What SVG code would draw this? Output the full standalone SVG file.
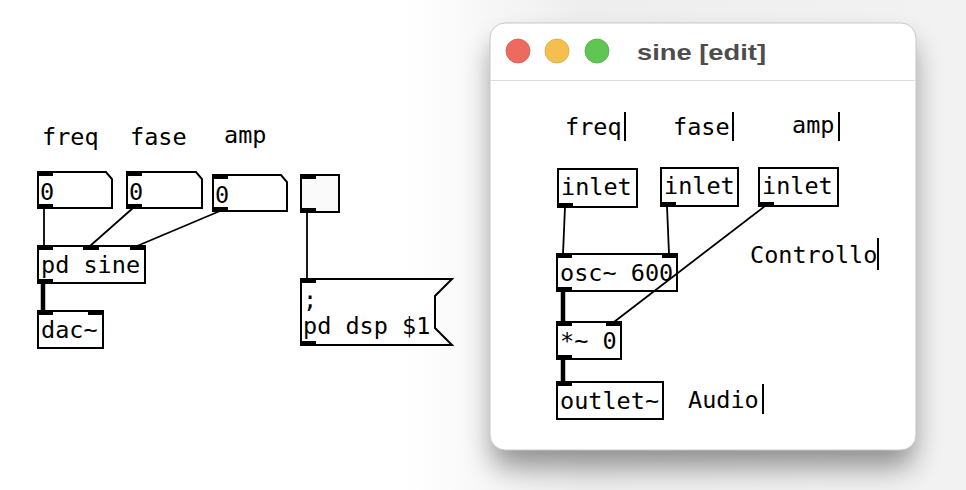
<svg xmlns="http://www.w3.org/2000/svg" width="966" height="490" viewBox="0 0 966 490">
<defs>
<style>
.box{fill:#fff;stroke:#000;stroke-width:2}
.tab{fill:#000}
.t{font-family:"DejaVu Sans Mono","Liberation Mono",monospace;font-size:23.5px;fill:#000}
.w{stroke:#000;stroke-width:1.8;fill:none}
.s{stroke:#000;stroke-width:4.5;fill:none}
.cur{stroke:#000;stroke-width:2}
</style>
<linearGradient id="bg" x1="0" y1="0" x2="1" y2="0">
<stop offset="0" stop-color="#ffffff"/>
<stop offset="0.42" stop-color="#ffffff"/>
<stop offset="0.6" stop-color="#eeeeee"/>
<stop offset="1" stop-color="#f2f2f2"/>
</linearGradient>
<filter id="sh" x="-20%" y="-20%" width="140%" height="150%">
<feGaussianBlur stdDeviation="14"/>
</filter>
</defs>
<rect x="0" y="0" width="966" height="490" fill="url(#bg)"/>
<rect x="492" y="42" width="422" height="425" rx="16" fill="#000" opacity="0.4" filter="url(#sh)"/>

<!-- left patch -->
<g id="labels-left">
<text class="t" x="42" y="145">freq</text>
<text class="t" x="130" y="145">fase</text>
<text class="t" x="224" y="143">amp</text>
</g>
<g id="connectors-left">
<line class="w" x1="44" y1="208" x2="44" y2="246"/>
<line class="w" x1="133" y1="208" x2="90" y2="246"/>
<line class="w" x1="220" y1="211" x2="137" y2="246"/>
<line class="s" x1="43" y1="283" x2="43" y2="311"/>
<line class="w" x1="307" y1="212" x2="307" y2="279"/>
</g>
<g id="num1">
<path class="box" d="M38,172 H106 L112,179 V208 H38 Z"/>
<rect class="tab" x="37" y="171" width="16" height="5"/>
<rect class="tab" x="37" y="204" width="16" height="5"/>
<text class="t" x="40" y="200">0</text>
</g>
<g id="num2">
<path class="box" d="M127,172 H196 L202,179 V208 H127 Z"/>
<rect class="tab" x="126" y="171" width="16" height="5"/>
<rect class="tab" x="126" y="204" width="16" height="5"/>
<text class="t" x="129" y="200">0</text>
</g>
<g id="num3">
<path class="box" d="M213,175 H281 L287,182 V211 H213 Z"/>
<rect class="tab" x="212" y="174" width="16" height="5"/>
<rect class="tab" x="212" y="207" width="16" height="5"/>
<text class="t" x="215" y="203">0</text>
</g>
<g id="toggle">
<rect x="301" y="175" width="38" height="37" fill="#fafafa" stroke="#000" stroke-width="2"/>
<rect class="tab" x="300" y="174" width="16" height="5"/>
<rect class="tab" x="300" y="208" width="16" height="5"/>
</g>
<g id="pd-sine">
<rect class="box" x="38" y="246" width="107" height="37"/>
<rect class="tab" x="37" y="245" width="16" height="5"/>
<rect class="tab" x="83" y="245" width="16" height="5"/>
<rect class="tab" x="130" y="245" width="16" height="5"/>
<rect class="tab" x="37" y="279" width="16" height="5"/>
<text class="t" x="41" y="273">pd sine</text>
</g>
<g id="dac">
<rect class="box" x="38" y="311" width="65" height="37"/>
<rect class="tab" x="37" y="310" width="16" height="5"/>
<rect class="tab" x="88" y="310" width="16" height="5"/>
<text class="t" x="41" y="338">dac~</text>
</g>
<g id="msg">
<path class="box" d="M301,279 H452 L435,296 V328 L452,345 H301 Z"/>
<rect class="tab" x="300" y="278" width="16" height="5"/>
<rect class="tab" x="300" y="341" width="16" height="5"/>
<text class="t" x="303" y="308">;</text>
<text class="t" x="303" y="334">pd dsp $1</text>
</g>

<!-- window -->
<g id="window">
<rect x="490" y="23" width="426" height="427" rx="15" fill="#fff" stroke="#c8c8c8" stroke-width="1"/>
<line x1="490" y1="80.5" x2="916" y2="80.5" stroke="#dcdcdc" stroke-width="1"/>
<circle cx="518" cy="51" r="12" fill="#ed6a5e" stroke="#d65a4e" stroke-width="0.8"/>
<circle cx="557" cy="51" r="12" fill="#f5bf4f" stroke="#d9a53c" stroke-width="0.8"/>
<circle cx="597" cy="51" r="12" fill="#61c554" stroke="#52a842" stroke-width="0.8"/>
<text x="637" y="60" font-family="'Liberation Sans',Arial,sans-serif" font-weight="bold" font-size="22" fill="#4d4d4d" textLength="129" lengthAdjust="spacingAndGlyphs">sine [edit]</text>
</g>
<g id="labels-right">
<text class="t" x="565" y="135">freq</text>
<line class="cur" x1="625" y1="112" x2="625" y2="141"/>
<text class="t" x="673" y="135">fase</text>
<line class="cur" x1="733" y1="112" x2="733" y2="141"/>
<text class="t" x="792" y="133">amp</text>
<line class="cur" x1="839" y1="112" x2="839" y2="141"/>
<text class="t" x="750" y="263">Controllo</text>
<line class="cur" x1="878" y1="238" x2="878" y2="270"/>
<text class="t" x="688" y="408">Audio</text>
<line class="cur" x1="763" y1="384" x2="763" y2="414"/>
</g>
<g id="inlet1">
<rect class="box" x="558" y="169" width="79" height="38"/>
<rect class="tab" x="557" y="203" width="16" height="5"/>
<text class="t" x="561" y="195">inlet</text>
</g>
<g id="inlet2">
<rect class="box" x="661" y="168" width="77" height="38"/>
<rect class="tab" x="660" y="202" width="16" height="5"/>
<text class="t" x="664" y="194">inlet</text>
</g>
<g id="inlet3">
<rect class="box" x="759" y="168" width="79" height="38"/>
<rect class="tab" x="758" y="202" width="16" height="5"/>
<text class="t" x="762" y="194">inlet</text>
</g>
<g id="osc">
<rect class="box" x="557" y="254" width="120" height="37"/>
<rect class="tab" x="556" y="253" width="16" height="5"/>
<rect class="tab" x="662" y="253" width="16" height="5"/>
<rect class="tab" x="556" y="287" width="16" height="5"/>
<text class="t" x="560" y="281">osc~ 600</text>
</g>
<g id="mul">
<rect class="box" x="557" y="322" width="64" height="37"/>
<rect class="tab" x="556" y="321" width="16" height="5"/>
<rect class="tab" x="606" y="321" width="16" height="5"/>
<rect class="tab" x="556" y="355" width="16" height="5"/>
<text class="t" x="560" y="349">*~ 0</text>
</g>
<g id="outlet">
<rect class="box" x="557" y="382" width="106" height="37"/>
<rect class="tab" x="556" y="381" width="16" height="5"/>
<text class="t" x="560" y="409">outlet~</text>
</g>
<g id="connectors-right">
<line class="w" x1="565" y1="207" x2="563" y2="254"/>
<line class="w" x1="667" y1="206" x2="669" y2="254"/>
<line class="w" x1="765" y1="206" x2="614" y2="322"/>
<line class="s" x1="563" y1="291" x2="563" y2="322"/>
<line class="s" x1="563" y1="358" x2="563" y2="382"/>
</g>
</svg>
